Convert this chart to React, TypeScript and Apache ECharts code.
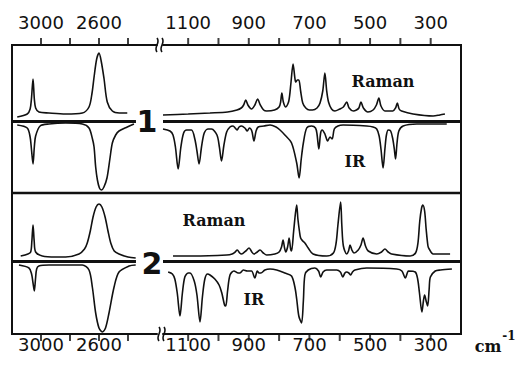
import React, { useEffect, useRef } from "react";
import * as echarts from "echarts";

// Axis ticks and labels (wavenumbers, cm-1)
const highTicks = [3000, 2800, 2600, 2400];
const highLabels = [3000, 2600];
const lowTicks = [1100, 1000, 900, 800, 700, 600, 500, 400, 300];
const lowLabels = [1100, 900, 700, 500, 300];

// Compound 1 — [wavenumber, relative intensity]; Raman upward, IR downward
const raman1High = [
  [3164, 4], [3095, 7], [3075, 12], [3066, 22], [3055, 42], [3046, 22], [3037, 13], [3014, 9],
  [2945, 8], [2830, 7], [2715, 8], [2669, 14], [2648, 28], [2634, 44], [2616, 62], [2600, 68],
  [2585, 60], [2565, 42], [2543, 19], [2508, 10], [2460, 8], [2405, 8],
];
const ir1High = [
  [3164, -4], [3095, -7], [3075, -16], [3066, -28], [3055, -43], [3046, -26], [3037, -15], [3006, -5],
  [2945, -3], [2830, -2], [2715, -3], [2669, -7], [2645, -18], [2634, -26], [2623, -46], [2611, -59],
  [2597, -67], [2583, -69], [2566, -66], [2545, -57], [2525, -38], [2508, -22], [2485, -14],
  [2462, -10], [2405, -6], [2359, -3],
];
const raman1Low = [
  [1183, 6], [1100, 7], [1028, 8], [970, 9], [939, 11], [925, 13], [917, 16], [910, 21], [903, 16],
  [891, 12], [880, 16], [871, 22], [862, 16], [851, 11], [841, 10], [815, 11], [800, 14], [795, 19],
  [791, 28], [786, 19], [778, 14], [768, 20], [761, 38], [754, 57], [748, 43], [745, 39], [740, 41],
  [735, 41], [729, 30], [722, 18], [712, 13], [700, 11], [690, 11], [675, 13], [665, 18], [656, 30],
  [649, 48], [643, 30], [637, 19], [627, 12], [616, 10], [600, 12], [588, 14], [577, 19], [569, 13],
  [555, 10], [545, 11], [537, 13], [530, 19], [522, 13], [507, 9], [490, 11], [479, 16], [471, 23],
  [464, 15], [451, 10], [425, 10], [416, 13], [410, 18], [404, 12], [396, 10], [358, 7], [292, 5],
  [270, 6], [253, 7],
];
const ir1Low = [
  [1183, -8], [1160, -10], [1150, -14], [1142, -26], [1133, -48], [1124, -26], [1115, -12], [1105, -9],
  [1089, -9], [1078, -18], [1071, -30], [1064, -43], [1056, -26], [1047, -12], [1035, -8], [1023, -8],
  [1005, -14], [997, -26], [990, -40], [982, -24], [973, -11], [962, -6], [952, -5], [945, -7],
  [939, -9], [932, -6], [924, -5], [913, -7], [905, -10], [898, -7], [890, -10], [883, -20], [876, -10],
  [869, -6], [850, -5], [830, -4], [810, -6], [797, -9], [781, -14], [759, -22], [742, -42], [734, -57],
  [727, -38], [720, -22], [709, -7], [693, -5], [680, -7], [675, -13], [669, -28], [663, -12],
  [658, -9], [649, -13], [640, -20], [632, -16], [625, -18], [618, -8], [606, -5], [589, -4], [511, -5],
  [490, -6], [478, -8], [470, -15], [464, -28], [457, -47], [451, -28], [446, -14], [440, -9],
  [432, -10], [425, -18], [420, -28], [416, -38], [411, -22], [405, -10], [391, -5], [346, -3], [247, -3],
];

// Compound 2
const raman2High = [
  [3140, 5], [3090, 7], [3071, 9], [3063, 20], [3055, 36], [3047, 20], [3037, 9], [2991, 5], [2900, 4],
  [2830, 4], [2738, 7], [2700, 12], [2681, 18], [2660, 30], [2641, 44], [2620, 54], [2600, 57],
  [2580, 54], [2558, 44], [2538, 30], [2519, 18], [2495, 10], [2462, 7], [2400, 4], [2347, 3],
];
const ir2High = [
  [3152, -4], [3083, -7], [3065, -13], [3055, -22], [3046, -30], [3038, -18], [3030, -8], [3015, -5],
  [2945, -4], [2715, -4], [2669, -9], [2646, -26], [2623, -52], [2600, -67], [2577, -71], [2555, -67],
  [2531, -52], [2496, -26], [2462, -11], [2393, -5], [2347, -4],
];
const raman2Low = [
  [1150, 5], [1083, 5], [973, 6], [955, 7], [945, 9], [938, 11], [930, 8], [924, 7], [910, 10],
  [899, 13], [890, 9], [883, 7], [872, 9], [863, 11], [852, 8], [841, 6], [814, 7], [800, 9], [792, 14],
  [787, 21], [782, 13], [778, 9], [772, 14], [767, 23], [762, 12], [759, 10], [752, 30], [746, 48],
  [742, 56], [738, 42], [733, 30], [729, 23], [722, 20], [715, 18], [704, 13], [688, 7], [643, 5],
  [621, 8], [612, 18], [606, 36], [597, 59], [593, 35], [588, 15], [577, 7], [571, 10], [566, 16],
  [560, 11], [553, 8], [539, 11], [530, 16], [523, 23], [515, 15], [506, 10], [478, 7], [462, 9],
  [451, 12], [440, 9], [429, 7], [368, 5], [350, 8], [342, 18], [336, 40], [330, 53], [326, 56],
  [320, 50], [315, 32], [309, 15], [305, 12], [292, 7], [236, 7],
];
const ir2Low = [
  [1166, -11], [1152, -13], [1144, -18], [1136, -32], [1127, -55], [1119, -32], [1111, -16],
  [1100, -12], [1094, -12], [1080, -20], [1071, -34], [1061, -61], [1053, -36], [1045, -18],
  [1036, -13], [1028, -14], [1012, -18], [998, -24], [989, -32], [980, -44], [976, -45], [970, -30],
  [962, -14], [949, -10], [935, -12], [929, -12], [918, -9], [905, -10], [891, -10], [880, -17],
  [872, -10], [866, -12], [860, -12], [847, -9], [830, -8], [808, -9], [781, -12], [759, -15],
  [748, -26], [742, -38], [735, -55], [726, -62], [720, -40], [715, -14], [704, -9], [682, -7],
  [670, -10], [663, -16], [655, -11], [643, -9], [610, -9], [598, -11], [590, -16], [583, -12],
  [577, -11], [570, -12], [564, -14], [558, -11], [550, -9], [511, -7], [412, -8], [395, -10],
  [384, -17], [376, -11], [373, -10], [351, -11], [343, -18], [337, -32], [329, -51], [324, -40],
  [320, -34], [315, -40], [310, -45], [305, -28], [301, -16], [285, -10], [268, -9], [230, -8],
];

const INK = "#111";
const AXIS_FONT = "DejaVu Sans";
const TYPE_FONT = "DejaVu Serif";

// vertical extents of the two panels, in intensity units
const TOP_RANGE = { min: -72, max: 76 };
const BOTTOM_RANGE = { min: -73, max: 68 };

export default function App() {
  const ref = useRef<HTMLDivElement>(null);

  useEffect(() => {
    const chart = echarts.init(ref.current!, null, { renderer: "svg" });

    const grids = [
      { left: 12, top: 45, width: 145, height: 148 },
      { left: 163, top: 45, width: 298, height: 148 },
      { left: 12, top: 193, width: 145, height: 141 },
      { left: 163, top: 193, width: 298, height: 141 },
    ];

    const xAxis = (gridIndex: number, high: boolean, top: boolean) => ({
      type: "value",
      gridIndex,
      position: top ? "top" : "bottom",
      inverse: true,
      min: high ? 2200 : 200,
      max: high ? 3200 : 1183,
      axisLine: { show: true, onZero: false, lineStyle: { color: INK, width: 2 } },
      axisTick: { show: false },
      axisLabel: {
        show: true,
        customValues: high ? highLabels : lowLabels,
        formatter: (v: number) => String(v),
        margin: top ? 14 : 1,
        fontFamily: AXIS_FONT,
        fontSize: 18,
        color: INK,
      },
      splitLine: { show: false },
    });

    const yAxis = (gridIndex: number, top: boolean) => ({
      type: "value",
      gridIndex,
      ...(top ? TOP_RANGE : BOTTOM_RANGE),
      show: false,
    });

    const baseline = (high: boolean) => ({
      silent: true,
      symbol: "none",
      label: { show: false },
      lineStyle: { color: INK, width: 3, type: "solid" },
      data: high ? [[{ coord: [3200, 0] }, { coord: [2345, 0] }]] : [{ yAxis: 0 }],
    });

    const spectrum = (data: number[][], idx: number, withBase?: boolean, high?: boolean) => ({
      type: "line",
      xAxisIndex: idx,
      yAxisIndex: idx,
      data,
      showSymbol: false,
      smooth: 0.3,
      silent: true,
      lineStyle: { color: INK, width: 1.6 },
      z: 3,
      ...(withBase ? { markLine: baseline(!!high) } : {}),
    });

    // outward tick marks on the frame edge of a panel
    const ticks = (idx: number, high: boolean, top: boolean) => {
      const edge = top ? TOP_RANGE.max : BOTTOM_RANGE.min;
      return {
        type: "scatter",
        xAxisIndex: idx,
        yAxisIndex: idx,
        data: (high ? highTicks : lowTicks).map((v) => [v, edge]),
        symbol: "rect",
        symbolSize: [2, 7],
        symbolOffset: [0, top ? -3.5 : 3.5],
        itemStyle: { color: INK },
        clip: false,
        silent: true,
        z: 4,
      };
    };

    const breakMark = (x: number, y: number) => [0, 5].map((dx) => ({
      type: "bezierCurve",
      z: 20,
      shape: {
        x1: x + dx, y1: y + 7,
        cpx1: x + dx - 4, cpy1: y + 2,
        cpx2: x + dx + 4, cpy2: y - 2,
        x2: x + dx, y2: y - 7,
      },
      style: { stroke: INK, lineWidth: 1.6, fill: "none" },
    }));

    const label = (text: string, x: number, y: number, size: number, family: string) => ({
      type: "text",
      x,
      y,
      z: 20,
      style: {
        text,
        fill: INK,
        fontFamily: family,
        fontSize: size,
        fontWeight: "bold",
        align: "center",
        verticalAlign: "middle",
      },
    });

    chart.setOption({
      animation: false,
      backgroundColor: "#fff",
      grid: grids,
      xAxis: [xAxis(0, true, true), xAxis(1, false, true), xAxis(2, true, false), xAxis(3, false, false)],
      yAxis: [yAxis(0, true), yAxis(1, true), yAxis(2, false), yAxis(3, false)],
      series: [
        spectrum(raman1High, 0, true, true),
        spectrum(ir1High, 0),
        spectrum(raman1Low, 1, true, false),
        spectrum(ir1Low, 1),
        spectrum(raman2High, 2, true, true),
        spectrum(ir2High, 2),
        spectrum(raman2Low, 3, true, false),
        spectrum(ir2Low, 3),
        ticks(0, true, true),
        ticks(1, false, true),
        ticks(2, true, false),
        ticks(3, false, false),
      ],
      graphic: [
        { type: "line", z: 20, shape: { x1: 12, y1: 44, x2: 12, y2: 335 }, style: { stroke: INK, lineWidth: 2 } },
        { type: "line", z: 20, shape: { x1: 461, y1: 44, x2: 461, y2: 335 }, style: { stroke: INK, lineWidth: 2 } },
        { type: "line", z: 20, shape: { x1: 12, y1: 193, x2: 461, y2: 193 }, style: { stroke: INK, lineWidth: 2.5 } },
        ...breakMark(157, 45),
        ...breakMark(159, 334),
        label("1", 147, 121, 30, "DejaVu Sans"),
        label("2", 152, 263, 30, "DejaVu Sans"),
        label("Raman", 383, 81, 16, TYPE_FONT),
        label("IR", 355, 161, 16, TYPE_FONT),
        label("Raman", 214, 220, 16, TYPE_FONT),
        label("IR", 254, 299, 16, TYPE_FONT),
        label("cm", 488, 346, 16, TYPE_FONT),
        label("-1", 509, 336, 12, TYPE_FONT),
      ],
    });

    return () => chart.dispose();
  }, []);

  return (
    <div
      ref={ref}
      style={{ position: "fixed", left: 0, top: 0, width: 521, height: 367, background: "#fff" }}
    />
  );
}
